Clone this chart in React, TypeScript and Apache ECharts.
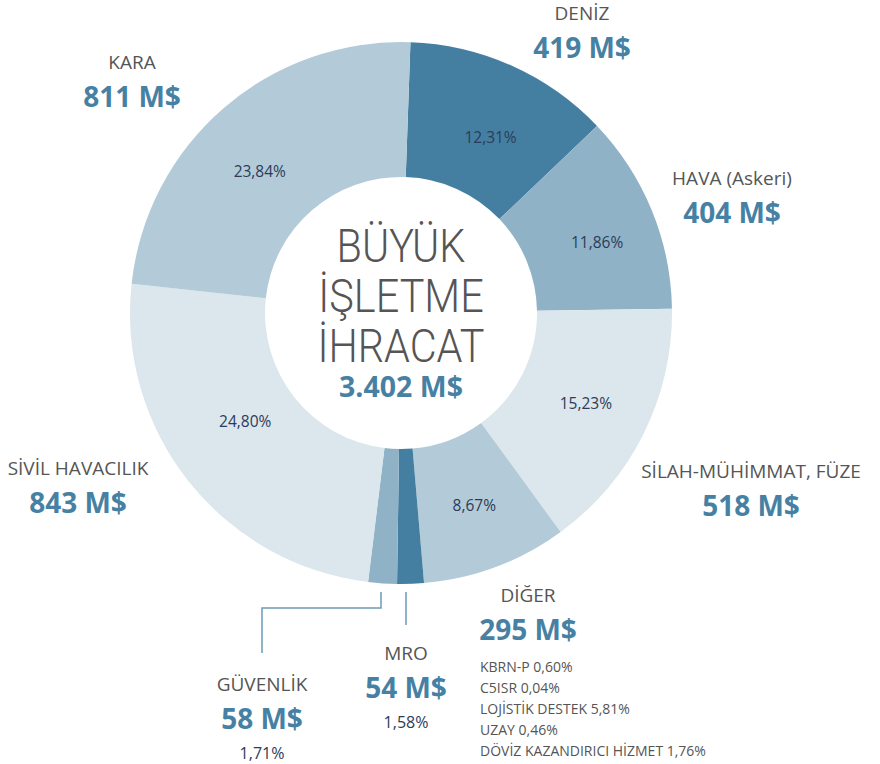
import React, { useEffect, useRef } from 'react';
import * as echarts from 'echarts';

// ---- data ----
const categories = ['DENİZ', 'HAVA (Askeri)', 'SİLAH-MÜHİMMAT, FÜZE', 'DİĞER', 'MRO', 'GÜVENLİK', 'SİVİL HAVACILIK', 'KARA'];
const valuesMUSD = [419, 404, 518, 295, 54, 58, 843, 811];
const shares = [12.31, 11.86, 15.23, 8.67, 1.58, 1.71, 24.8, 23.84];
const totalLabel = '3.402 M$';
const titleLines = ['BÜYÜK', 'İŞLETME', 'İHRACAT'];
const digerBreakdown = ['KBRN-P 0,60%', 'C5ISR 0,04%', 'LOJİSTİK DESTEK 5,81%', 'UZAY 0,46%', 'DÖVİZ KAZANDIRICI HİZMET 1,76%'];

// ---- styles / layout ----
const palette = ['#447fa1', '#8fb2c7', '#dbe6ed', '#b3cbd8', '#447fa1', '#8fb2c7', '#dbe6ed', '#b3cbd8'];
const labelAnchors: number[][] = [[582, 13], [732, 178], [751, 471], [528, 595], [406, 653], [262, 684], [78, 468], [132, 62]];
const insideOffsets: number[][] = [[5, 12], [5, 7], [0, -2], [1, -1], [0, 0], [0, 0], [6, -20], [-6, 14]];
const CX = 401, CY = 313;
const FONT = '"Open Sans", "Noto Sans", sans-serif';

const fmtPct = (v: number) => v.toFixed(2).replace('.', ',') + '%';

export default function App() {
  const ref = useRef<HTMLDivElement>(null);
  useEffect(() => {
    if (!ref.current) return;
    const chart = echarts.init(ref.current, null, { renderer: 'svg' });
    const data = categories.map((c, i) => ({ name: c, value: valuesMUSD[i], itemStyle: { color: palette[i] } }));
    const outerData = categories.map((c, i) => ({ name: c, value: valuesMUSD[i] }));
    const graphic: any[] = [];
    titleLines.forEach((t, i) => {
      graphic.push({
        type: 'text', x: CX, y: 246 + i * 50, scaleX: 0.9, silent: true,
        style: { text: t, x: 0, y: 0, align: 'center', verticalAlign: 'middle', fill: '#555', font: `300 46px Roboto, "Open Sans", sans-serif` },
      });
    });
    graphic.push({
      type: 'text', x: CX, y: 386, silent: true,
      style: { text: totalLabel, x: 0, y: 0, align: 'center', verticalAlign: 'middle', fill: '#4681a4', font: `bold 28.5px ${FONT}` },
    });
    digerBreakdown.forEach((t, i) => {
      graphic.push({
        type: 'text', x: 480, y: 666 + i * 21, silent: true,
        style: { text: t, x: 0, y: 0, align: 'left', verticalAlign: 'middle', fill: '#555', font: `14px ${FONT}` },
      });
    });
    graphic.push({ type: 'polyline', silent: true, shape: { points: [[381, 592], [381, 608], [262, 608], [262, 653]] }, style: { stroke: '#6f9ab5', lineWidth: 1.5, fill: null } });
    graphic.push({ type: 'line', silent: true, shape: { x1: 406, y1: 592, x2: 406, y2: 625 }, style: { stroke: '#6f9ab5', lineWidth: 1.5 } });

    chart.setOption({
      animation: false,
      backgroundColor: '#ffffff',
      graphic,
      series: [
        {
          type: 'pie',
          center: [CX, CY],
          radius: [136, 271],
          startAngle: 88,
          clockwise: true,
          avoidLabelOverlap: false,
          silent: true,
          data,
          label: {
            show: true,
            position: 'inside',
            formatter: (p: any) => (shares[p.dataIndex] >= 5 ? fmtPct(shares[p.dataIndex]) : ''),
            color: '#2d3b58',
            fontSize: 15.5,
            fontFamily: FONT,
          },
          labelLine: { show: false },
          labelLayout: (params: any) => {
            const o = insideOffsets[params.dataIndex];
            return { dx: o[0], dy: o[1] };
          },
        },
        {
          type: 'pie',
          center: [CX, CY],
          radius: [136, 271],
          startAngle: 88,
          clockwise: true,
          silent: true,
          avoidLabelOverlap: false,
          itemStyle: { color: 'rgba(0,0,0,0)' },
          data: outerData,
          label: {
            show: true,
            position: 'outside',
            formatter: (p: any) => {
              const i = p.dataIndex;
              let s = `{n|${categories[i]}}\n{v|${valuesMUSD[i]} M$}`;
              if (shares[i] < 5) s += `\n{p|${fmtPct(shares[i])}}`;
              return s;
            },
            rich: {
              n: { fontSize: 19, color: '#555', lineHeight: 33, fontFamily: FONT },
              v: { fontSize: 28, fontWeight: 'bold', color: '#4681a4', lineHeight: 35, fontFamily: FONT },
              p: { fontSize: 16, color: '#2d3b58', lineHeight: 35, fontFamily: FONT },
            },
          },
          labelLine: { show: false },
          labelLayout: (params: any) => {
            const a = labelAnchors[params.dataIndex];
            return { x: a[0], y: a[1] - 16.5, align: 'center', verticalAlign: 'top' };
          },
        },
      ],
    });
    return () => chart.dispose();
  }, []);
  return <div ref={ref} style={{ position: 'fixed', left: 0, top: 0, width: 880, height: 764 }} />;
}
